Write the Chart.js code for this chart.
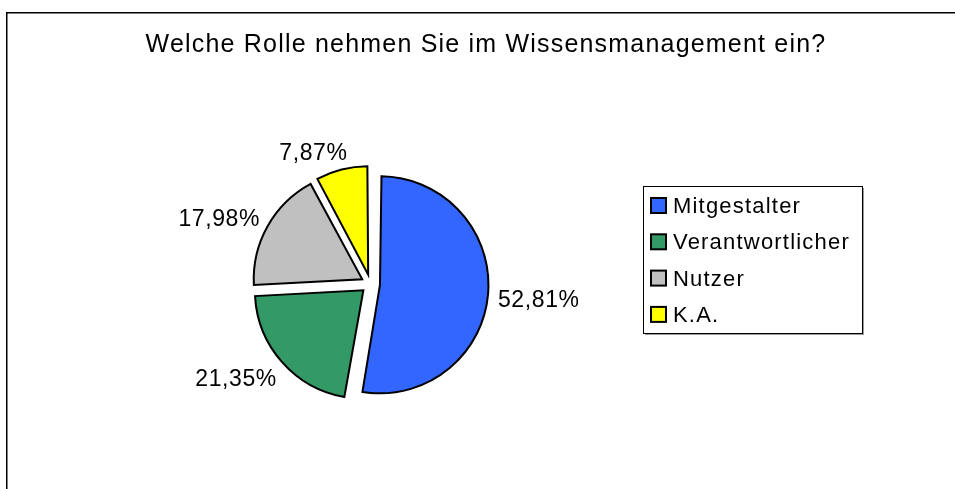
<!DOCTYPE html>
<html>
<head>
<meta charset="utf-8">
<script src="https://cdn.jsdelivr.net/npm/chart.js@4"></script>
<style>
  html, body { margin: 0; padding: 0; background: #fff; overflow: hidden; }
  #wrap { width: 955px; height: 489px; position: relative; }
</style>
</head>
<body>
<div id="wrap"><canvas id="rollenChart"></canvas></div>
<script>
const categories = ["Mitgestalter", "Verantwortlicher", "Nutzer", "K.A."];
const shares = [52.81, 21.35, 17.98, 7.87];
const sliceColors = ["#3366FF", "#339966", "#C0C0C0", "#FFFF00"];
const titleText = "Welche Rolle nehmen Sie im Wissensmanagement ein?";

const FONT = "'Liberation Sans', Arial, Helvetica, sans-serif";

const fmt = (v) => v.toFixed(2).replace(".", ",") + "%";

// how much chart.js grows an exploded arc (offset/4 * fix)
const growth = (arc) => {
  const circ = arc.endAngle - arc.startAngle;
  const fix = 1 - Math.sin(Math.min(Math.PI, circ));
  return ((arc.options.offset || 0) / 4) * fix;
};

// frame, title, legend and percent labels (Excel look)
const excelDecor = {
  id: "excelDecor",
  afterDatasetUpdate(chart, args) {
    // keep all exploded slices the same size
    args.meta.data.forEach((arc) => {
      arc.outerRadius -= growth(arc);
    });
  },
  beforeDraw(chart) {
    const { ctx } = chart;
    ctx.save();
    ctx.strokeStyle = "#000";
    ctx.lineWidth = 1.5;
    ctx.beginPath();
    ctx.moveTo(6.75, 489);
    ctx.lineTo(6.75, 12.75);
    ctx.lineTo(955, 12.75);
    ctx.stroke();

    ctx.fillStyle = "#000";
    ctx.font = "25px " + FONT;
    ctx.letterSpacing = "1.2px";
    ctx.textAlign = "center";
    ctx.textBaseline = "alphabetic";
    ctx.fillText(titleText, 486, 52);
    ctx.restore();
  },
  afterDatasetsDraw(chart) {
    const { ctx } = chart;
    const meta = chart.getDatasetMeta(0);
    const labels = chart.data.labels;
    const ds = chart.data.datasets[0];

    ctx.save();
    ctx.fillStyle = "#000";
    ctx.font = "23px " + FONT;
    ctx.letterSpacing = "0.6px";
    ctx.textAlign = "center";
    ctx.textBaseline = "middle";
    meta.data.forEach((arc, i) => {
      const { x, y, startAngle, endAngle, outerRadius } = arc;
      const shift = (arc.options.offset || 0) / 4;
      const r = outerRadius + growth(arc);
      const mid = (startAngle + endAngle) / 2;
      const c = Math.cos(mid), s = Math.sin(mid);
      const cx = x + c * shift, cy = y + s * shift;
      const ra = r + 10;
      const txt = fmt(ds.data[i]);
      const w = ctx.measureText(txt).width;
      const dx = Math.sign(c) * Math.pow(Math.abs(c), 0.2) * w / 2;
      const dy = s * 11 + 4;
      ctx.fillText(txt, cx + c * ra + dx, cy + s * ra + dy);
    });
    ctx.restore();

    // legend box
    const lx = 643, ly = 186, lw = 219, lh = 147;
    ctx.save();
    ctx.fillStyle = "#9a9a9a";
    ctx.fillRect(lx + 2, ly + 2, lw, lh);
    ctx.fillStyle = "#fff";
    ctx.fillRect(lx, ly, lw, lh);
    ctx.strokeStyle = "#000";
    ctx.lineWidth = 1;
    ctx.strokeRect(lx + 0.5, ly + 0.5, lw, lh);

    ctx.font = "22px " + FONT;
    ctx.letterSpacing = "1.2px";
    ctx.textAlign = "left";
    ctx.textBaseline = "alphabetic";
    labels.forEach((lab, i) => {
      const rowY = ly + 19.5 + i * 36.3;
      ctx.fillStyle = ds.backgroundColor[i];
      ctx.fillRect(651, rowY - 7.5, 15, 15);
      ctx.strokeStyle = "#000";
      ctx.lineWidth = 2;
      ctx.strokeRect(651, rowY - 7.5, 15, 15);
      ctx.fillStyle = "#000";
      ctx.fillText(lab, 673, rowY + 7.5);
    });
    ctx.restore();
  }
};

const chart = new Chart(document.getElementById("rollenChart"), {
  type: "pie",
  data: {
    labels: categories,
    datasets: [
      {
        data: shares,
        backgroundColor: sliceColors,
        borderColor: "#000",
        borderWidth: 2,
        borderJoinStyle: "miter",
        offset: 38,
        hoverOffset: 0,
      },
    ],
  },
  options: {
    responsive: true,
    maintainAspectRatio: false,
    animation: false,
    layout: {
      padding: { left: 242, right: 456, top: 155.5, bottom: 76.5 },
    },
    plugins: {
      legend: { display: false },
      title: { display: false },
      tooltip: { enabled: false },
    },
    events: [],
  },
  plugins: [excelDecor],
});
</script>
</body>
</html>
